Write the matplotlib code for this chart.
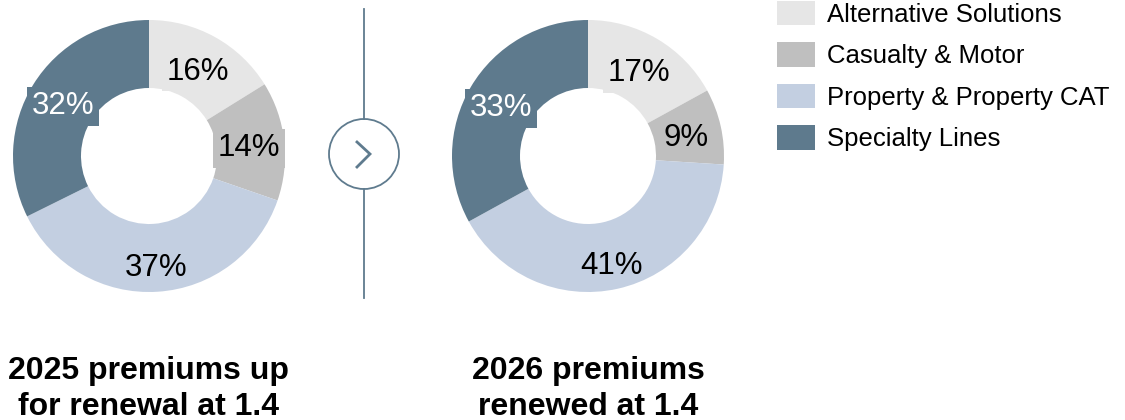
import matplotlib
matplotlib.use("Agg")
import matplotlib.pyplot as plt
from matplotlib.patches import Patch, Circle
import numpy as np

plt.rcParams['font.family'] = ['Liberation Sans', 'DejaVu Sans']

# premium split by line of business
segments = ['Alternative Solutions', 'Casualty & Motor',
            'Property & Property CAT', 'Specialty Lines']
share_2025 = [16, 14, 37, 32]
share_2026 = [17, 9, 41, 33]
titles = [['2025 premiums up', 'for renewal at 1.4'],
          ['2026 premiums', 'renewed at 1.4']]

colors = ['#e6e6e6', '#bfbfbf', '#c3cfe1', '#5e7a8d']
text_colors = ['black', 'black', 'black', 'white']
accent = '#5f7b8e'

W, H = 1125, 420


def donut(ax, values, cx, cy, title):
    R = 136
    wedges, _ = ax.pie(values, colors=colors, startangle=90, counterclock=False,
                       radius=R, center=(cx, H - cy),
                       wedgeprops=dict(width=R / 2, linewidth=0))
    for w, v, col, tc in zip(wedges, values, colors, text_colors):
        ang = np.deg2rad((w.theta1 + w.theta2) / 2)
        lower = np.sin(ang) < -0.5
        # labels sit a bit further out on the lower half of the ring
        r = 0.8 * R if lower else 0.74 * R
        x = cx + r * np.cos(ang)
        y = H - cy + r * np.sin(ang)
        box = None if lower else dict(boxstyle='square,pad=0.15', fc=col, ec='none')
        ax.text(x, y, '%d%%' % v, ha='center', va='center_baseline', fontsize=22.5,
                color=tc, bbox=box)
    for i, line in enumerate(title):
        ax.text(cx, H - 379 - 36 * i, line, ha='center', va='baseline',
                fontsize=23, fontweight='bold')


fig = plt.figure(figsize=(W / 100, H / 100), dpi=100)
ax = fig.add_axes([0, 0, 1, 1])

donut(ax, share_2025, 149, 156, titles[0])
donut(ax, share_2026, 588, 156, titles[1])

# divider with arrow between the two years
ax.plot([364, 364], [H - 9, H - 119], color=accent, lw=1.3)
ax.plot([364, 364], [H - 189, H - 298], color=accent, lw=1.3)
ax.add_patch(Circle((364, H - 154), 35, fill=False, ec=accent, lw=1.3))
ax.plot([357, 370, 357], [H - 142, H - 154, H - 167], color=accent, lw=2,
        solid_joinstyle='miter')

ax.set_xlim(0, W)
ax.set_ylim(0, H)
ax.set_aspect('equal')
ax.axis('off')

handles = [Patch(facecolor=c, edgecolor='none') for c in colors]
ax.legend(handles, segments, loc='upper left', bbox_to_anchor=(777 / W, 1 - 1 / H),
          frameon=False, fontsize=18.5, handlelength=1.48, handleheight=1.09,
          handletextpad=0.45, labelspacing=0.6, borderpad=0, borderaxespad=0)

fig.savefig('out.png', dpi=100)
